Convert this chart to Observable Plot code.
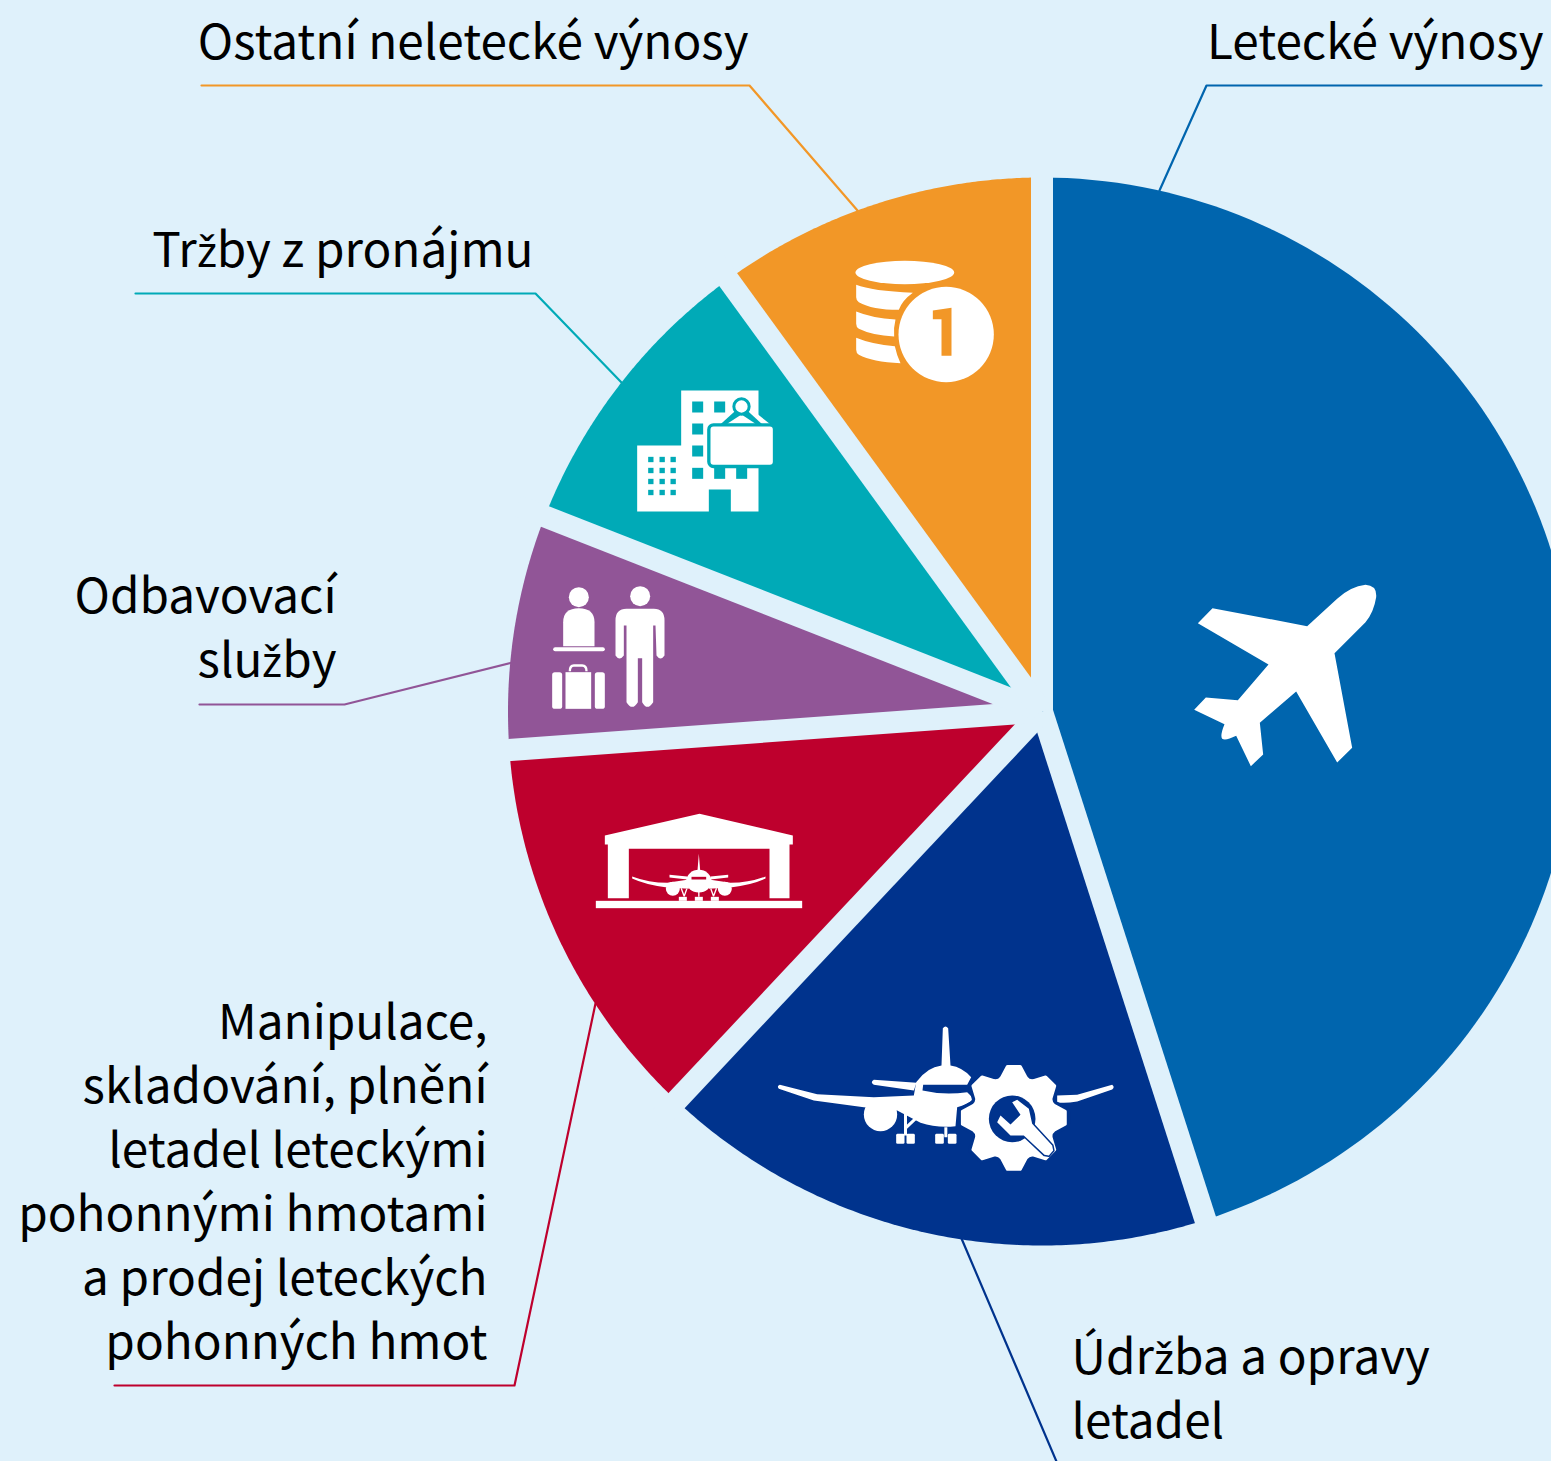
<!DOCTYPE html>
<html lang="cs">
<head>
<meta charset="utf-8">
<style>
@font-face{font-family:"LabelZ";src:local("Noto Sans"),local("Noto Sans Regular"),local("NotoSans-Regular");unicode-range:U+017E;size-adjust:90%}
html,body{margin:0;padding:0;background:#dff1fb}svg{display:block}
</style>
<script src="https://cdn.jsdelivr.net/npm/d3@7"></script>
<script src="https://cdn.jsdelivr.net/npm/@observablehq/plot@0.6"></script>
</head>
<body>
<script>
const categories = ["Letecké výnosy","Údr\u017Eba a opravy letadel","Manipulace, skladování, plnění letadel leteckými pohonnými hmotami a prodej leteckých pohonných hmot","Odbavovací slu\u017Eby","Tr\u017Eby z pronájmu","Ostatní neletecké výnosy"];
const shares = [45.05,16.95,11.85,7.1,9.05,10];
const colors = ["#0065ae","#00338d","#be002d","#915597","#00aab7","#f29727"];
const labelLines = ["Letecké výnosy","Údr\u017Eba a opravy\nletadel","Manipulace,\nskladování, plnění\nletadel leteckými\npohonnými hmotami\na prodej leteckých\npohonných hmot","Odbavovací\nslu\u017Eby","Tr\u017Eby z pronájmu","Ostatní neletecké výnosy"];

const BG = "#dff1fb", W = 1551, H = 1461, FS = 47.7, LH = 64;
const C = [1041.5,711], R = 534;
const labelX = [1543,1071,487,336,533,748];
const labelBaseline = [58.5,1373.5,1038.5,612.5,266.5,58.5];
const labelAnchor = ["end","start","end","end","end","end"];
const leaderX = [[1159,1206,1541],[961,1056],[595,514,114],[512,344,199],[621,535,135],[857,749,201]];
const leaderY = [[190,85,85],[1238,1461],[1003,1385,1385],[662,704,704],[382,293,293],[210,85,85]];

const pie = d3.pie().sort(null).value(d=>d)(shares);
const polar = (a,r)=>[C[0]+r*Math.sin(a),C[1]-r*Math.cos(a)];
const sliceFeatures = pie.map((p,i)=>{
  const ring=[C], n=120;
  for(let k=0;k<=n;k++) ring.push(polar(p.startAngle+(p.endAngle-p.startAngle)*k/n,R));
  ring.push(C);
  return {type:"Feature",properties:{name:categories[i],color:colors[i]},geometry:{type:"Polygon",coordinates:[ring]}};
});
const separators = pie.flatMap((p,i)=>[C,polar(p.startAngle,R+30)].map(q=>({i,x:q[0],y:q[1]})));
const leaders = leaderX.flatMap((xs,i)=>xs.map((x,k)=>({i,x,y:leaderY[i][k],color:colors[i]})));
const labels = categories.map((c,i)=>({text:labelLines[i],x:labelX[i],y:labelBaseline[i]-LH*0.71,anchor:labelAnchor[i]}));

const svgUri=(w,h,body)=>"data:image/svg+xml,"+encodeURIComponent(`<svg xmlns="http://www.w3.org/2000/svg" viewBox="0 0 ${w} ${h}" width="${w}" height="${h}">${body}</svg>`);
function gear(cx,cy,ro,ri){
  const pt=(a,r)=>(cx+r*Math.sin(a)).toFixed(1)+" "+(cy-r*Math.cos(a)).toFixed(1);
  const deg=Math.PI/180;
  let d="";
  for(let i=0;i<8;i++){const a=i*45*deg;
    d+=(i?"L":"M")+pt(a-17*deg,ri+4)+"L"+pt(a-7*deg,ro)+"L"+pt(a+7*deg,ro)+"L"+pt(a+17*deg,ri+4)+"Q"+pt(a+22.5*deg,ri-4)+" "+pt(a+28*deg,ri+4);
  }
  return d+"Z";
}
const mirror=(body)=>`<g transform="translate(680 0) scale(-1 1)">${body}</g>`;
const hangarSide=`<path d="M140 213Q190 232 245 232L310 222V250L245 246Q180 238 140 219Z"/><path d="M252 208L305 213V222L252 216Z"/><circle cx="262" cy="250" r="21"/><path d="M287 248L296 272M304 250L296 272" stroke="#fff" stroke-width="4"/><rect x="280" y="274" width="24" height="12"/>`;
const icons=[
 {name:"plane",cx:1285,cy:675,w:210,h:210,src:svgUri(630,630,`<path fill="#fff" d="M380 167L470 85Q510 48 555 43Q590 45 587 80Q580 125 555 155L462 248L515 532L470 576L347 363L238 457L248 552L211 587L167 496Q135 512 125 505Q118 495 132 461L41 418L76 381L172 389L264 282L52 158L96 113Z"/>`)},
 {name:"maintenance",cx:945,cy:1097.5,w:350,h:165,src:svgUri(1050,495,`<g fill="#fff">
  <path d="M28 208L140 236L310 245L430 240L437 200Q470 155 513 150L517 38Q525 28 533 38L540 150Q575 155 602 185L590 208L458 208L456 225Q520 240 590 230L610 250Q590 268 560 275L555 332Q500 338 450 322L380 285L280 275L130 255L25 220Q18 212 28 208Z"/>
  <path d="M310 193L438 202L430 225L310 208Q298 200 310 193Z"/>
  <circle cx="330" cy="297" r="50"/>
  <path d="M405 288V360M405 338L440 305M526 335V365" stroke="#fff" stroke-width="9" fill="none"/>
  <rect x="377" y="355" width="25" height="30" rx="4"/><rect x="408" y="355" width="25" height="30" rx="4"/>
  <rect x="494" y="355" width="26" height="30" rx="4"/><rect x="532" y="355" width="26" height="30" rx="4"/>
  <path d="M860 240L920 238L1025 208Q1034 215 1025 222L920 258Q880 265 860 260Z"/>
  <path d="${gear(730,307,155,122)}" fill="#00338d" stroke="#00338d" stroke-width="30" stroke-linejoin="round"/>
  <path d="${gear(730,307,155,122)}" stroke="#fff" stroke-width="10" stroke-linejoin="round"/>
  <circle cx="725" cy="310" r="70" fill="#00338d"/>
  <path d="M725 260L740 253L775 280L785 325L845 390L848 405L835 420L822 418L760 360L720 360L680 320L690 300L720 327L750 298Z" stroke="#00338d" stroke-width="9" stroke-linejoin="round" paint-order="stroke"/>
 </g>`)},
 {name:"hangar",cx:697.5,cy:860,w:225,h:110,src:svgUri(675,330,`<g fill="#fff"><path d="M58 90L342 25L622 90V117H612V278H552V130H130V278H67V117H58Z"/><rect x="31" y="286" width="619" height="22"/>
  <path d="M336 195L340 145L344 195Z"/><ellipse cx="340" cy="227" rx="38" ry="34"/><rect x="318" y="214" width="44" height="8" fill="#be002d"/>
  ${hangarSide}${mirror(hangarSide)}<path d="M340 258V274" stroke="#fff" stroke-width="4"/><rect x="328" y="274" width="24" height="12"/></g>`)},
 {name:"passengers",cx:607.5,cy:645,w:135,h:140,src:svgUri(405,420,`<g fill="#fff"><circle cx="115" cy="65" r="30"/><path d="M68 212V140Q68 98 115 98Q162 98 162 140V212Z"/><rect x="38" y="215" width="155" height="12" rx="6"/>
  <path d="M88 287Q88 270 100 270H125Q138 270 138 287" stroke="#fff" stroke-width="7" fill="none"/><rect x="35" y="290" width="30" height="110" rx="8"/><rect x="75" y="290" width="77" height="110"/><rect x="163" y="290" width="30" height="110" rx="8"/>
  <circle cx="299" cy="62" r="30"/><path d="M258 100H340Q372 100 372 135V240Q360 258 348 240L345 150H338V380Q320 408 305 380V248H292V380Q275 408 258 380V150H250V240Q237 258 225 240V135Q225 100 258 100Z"/></g>`)},
 {name:"rental",cx:705,cy:450,w:160,h:140,src:svgUri(480,420,(()=>{
  const win=[[200,63],[266,63],[200,129],[200,195],[200,262],[266,262],[332,262]].map(([x,y])=>`<rect x="${x}" y="${y}" width="33" height="33"/>`).join("");
  let sm="";[68,102,135].forEach(x=>[229,262,295,328].forEach(y=>sm+=`<rect x="${x}" y="${y}" width="16" height="16"/>`));
  return `<path fill="#fff" d="M167 30H399V393H316V327H250V393H35V195H167Z"/><g fill="#00aab7">${win}${sm}</g>
  <path d="M348 62L262 136H440Z" fill="#fff"/>
  <path d="M348 74L280 136H415Z" fill="#00aab7"/>
  <path d="M348 102L305 130H390Z" fill="#fff"/>
  <rect x="250" y="133" width="197" height="125" rx="14" fill="#fff" stroke="#00aab7" stroke-width="10"/>
  <circle cx="348" cy="78" r="23" fill="#fff" stroke="#00aab7" stroke-width="9"/>`;})())},
 {name:"coins",cx:925,cy:320,w:160,h:140,src:svgUri(480,420,`<g fill="#fff"><ellipse cx="178" cy="66" rx="148" ry="35"/>
  <path d="M32 103Q80 122 202 127Q170 150 160 178Q80 178 40 155Q32 150 32 140Z"/>
  <path d="M32 183Q80 203 150 207Q144 230 146 258Q80 255 40 235Q32 230 32 220Z"/>
  <path d="M32 262Q80 282 148 287Q154 315 165 338Q80 335 40 313Q32 308 32 298Z"/>
  <circle cx="302" cy="252" r="143"/><path fill="#f29727" d="M262 180L318 172V316H288V206H262Z"/></g>`)}
];

const plot = Plot.plot({
  width:W,height:H,margin:0,
  projection:{stream:s=>s},
  style:{background:BG,fontFamily:"LabelZ,'Noto Sans CJK SC','Noto Sans',sans-serif",overflow:"hidden"},
  marks:[
    Plot.line(leaders,{x:"x",y:"y",z:"i",stroke:"color",strokeWidth:2.2,curve:"linear"}),
    Plot.geo(sliceFeatures,{fill:d=>d.properties.color,stroke:"none"}),
    Plot.line(separators,{x:"x",y:"y",z:"i",stroke:BG,strokeWidth:22,curve:"linear",strokeLinecap:"butt"}),
    Plot.image(icons,{x:"cx",y:"cy",width:"w",height:"h",src:"src"}),
    ...["start","end"].map(a=>Plot.text(labels.filter(d=>d.anchor===a),{x:"x",y:"y",text:"text",textAnchor:a,lineAnchor:"top",lineHeight:LH/FS,fontSize:FS,fill:"#000"}))
  ]
});
document.body.appendChild(plot);
</script>
</body>
</html>
